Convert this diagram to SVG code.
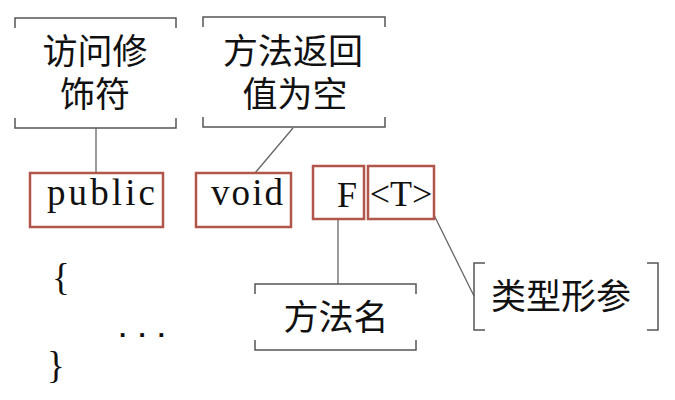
<svg xmlns="http://www.w3.org/2000/svg" width="675" height="400" viewBox="0 0 675 400">
<style>
.cj{font-family:"Liberation Serif","Noto Sans CJK SC",serif;font-size:35px;fill:#111;text-anchor:middle}
.code{font-family:"Liberation Serif",serif;font-size:37px;fill:#111}
.ser{font-family:"Liberation Serif",serif;font-size:36px;fill:#111}
.br{fill:none;stroke:#555;stroke-width:1.5}
.box{fill:#fff;stroke:#b0564a;stroke-width:2.5}
.ln{fill:none;stroke:#666;stroke-width:1.3}
</style>
<rect width="675" height="400" fill="#fff"/>
<g id="connectors">
<line class="ln" x1="96" y1="128" x2="96" y2="173"/>
<line class="ln" x1="293" y1="128" x2="255" y2="173"/>
<line class="ln" x1="338" y1="219" x2="338" y2="284"/>
<line class="ln" x1="433" y1="213" x2="474" y2="296"/>
</g>
<g id="callout-access">
<path class="br" d="M15,28 V18 H176 V28 M15,118 V128 H176 V118"/>
<text class="cj" x="95" y="64">访问修</text>
<text class="cj" x="95" y="107">饰符</text>
</g>
<g id="callout-void">
<path class="br" d="M203,27 V17 H385 V27 M203,117 V127 H385 V117"/>
<text class="cj" x="293" y="64">方法返回</text>
<text class="cj" x="295" y="107">值为空</text>
</g>
<g id="public">
<rect class="box" x="30" y="173" width="133" height="54"/>
<text class="code" x="47" y="205" textLength="108" lengthAdjust="spacing">public</text>
</g>
<g id="void">
<rect class="box" x="196" y="173" width="95" height="54"/>
<text class="code" x="211" y="205" textLength="72" lengthAdjust="spacing">void</text>
</g>
<g id="F">
<rect class="box" x="313" y="166" width="51" height="53"/>
<text class="ser" x="337" y="207">F</text>
</g>
<g id="T">
<rect class="box" x="368" y="166" width="66" height="53"/>
<text class="ser" x="401" y="206" text-anchor="middle" font-size="32">&lt;T&gt;</text>
</g>
<g id="callout-name">
<path class="br" d="M255,294 V284 H416 V294 M255,340 V350 H416 V340"/>
<text class="cj" x="336" y="330">方法名</text>
</g>
<g id="callout-type">
<path class="br" d="M485,263 H474 V330 H485 M647,263 H658 V330 H647"/>
<text class="cj" x="561" y="309">类型形参</text>
</g>
<g id="body">
<text class="code" x="52" y="290" font-size="34">{</text>
<text x="119" y="337" font-family="Liberation Sans, sans-serif" font-size="26" font-weight="bold" fill="#111" textLength="46" lengthAdjust="spacing">...</text>
<text class="code" x="47" y="378" font-size="34">}</text>
</g>
</svg>
